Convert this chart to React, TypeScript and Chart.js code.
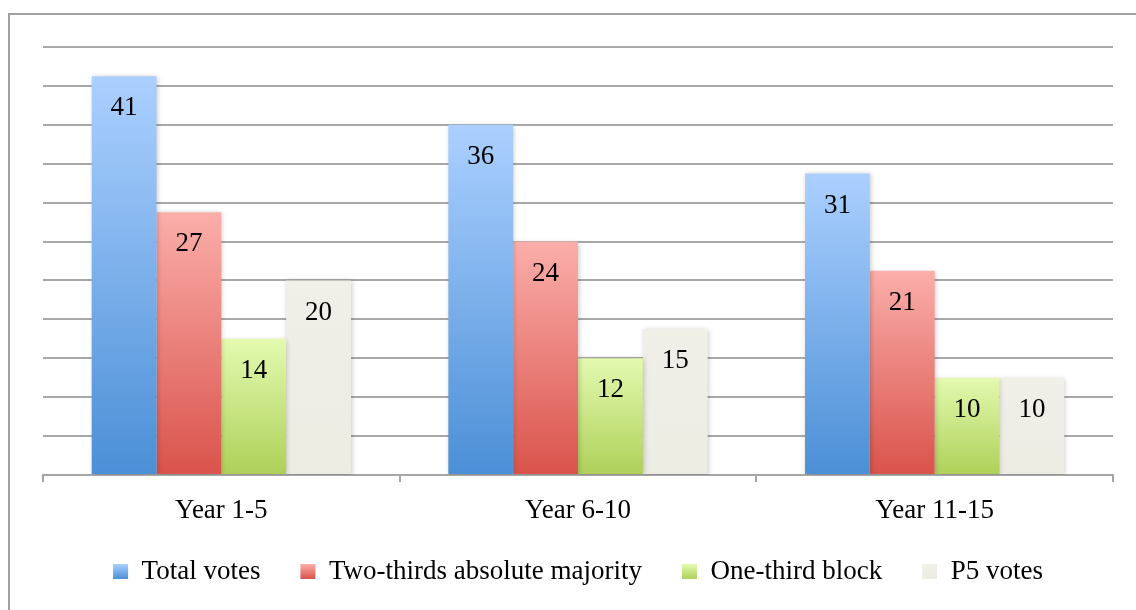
import React, { useEffect, useRef } from "react";
import { Chart, registerables } from "chart.js";

Chart.register(...registerables);

const categories = ["Year 1-5", "Year 6-10", "Year 11-15"];
const seriesNames = ["Total votes", "Two-thirds absolute majority", "One-third block", "P5 votes"];
const totalVotes = [41, 36, 31];
const twoThirds = [27, 24, 21];
const oneThird = [14, 12, 10];
const p5Votes = [20, 15, 10];

const FONT = "'Liberation Serif', serif";
const FONT_SIZE = 27;

const palette = [
  { top: "#abd0ff", bottom: "#4b8fd6", solid: "#7aaef0" },
  { top: "#fbaeaa", bottom: "#d9534b", solid: "#ec7d77" },
  { top: "#e3fab0", bottom: "#aed058", solid: "#cbe78a" },
  { top: "#f0efe8", bottom: "#edece3", solid: "#eeede5" },
];

function barFill(idx: number) {
  return (ctx: any) => {
    const chart = ctx.chart;
    const p = palette[idx];
    if (ctx.dataIndex === undefined || !chart.chartArea || !chart.scales.y) return p.solid;
    const v = ctx.raw ?? ctx.parsed?.y;
    const y = chart.scales.y;
    const top = y.getPixelForValue(v);
    const base = y.getPixelForValue(0);
    if (!isFinite(top) || !isFinite(base) || top === base) return p.solid;
    const g = chart.ctx.createLinearGradient(0, top, 0, base);
    g.addColorStop(0, p.top);
    g.addColorStop(1, p.bottom);
    return g;
  };
}

const barDecor = {
  id: "barDecor",
  beforeDraw(chart: any) {
    const legend = chart.legend;
    if (!legend || !legend.legendItems || !legend.legendHitBoxes) return;
    const boxH = 15;
    legend.legendItems.forEach((item: any, i: number) => {
      const hb = legend.legendHitBoxes[i];
      if (!hb) return;
      const t = hb.top + (hb.height - boxH) / 2;
      const g = chart.ctx.createLinearGradient(0, t, 0, t + boxH);
      const p = palette[item.datasetIndex] || palette[0];
      g.addColorStop(0, p.top);
      g.addColorStop(1, p.bottom);
      item.fillStyle = g;
    });
  },
  beforeDatasetsDraw(chart: any) {
    const ctx = chart.ctx;
    ctx.save();
    ctx.shadowColor = "rgba(0,0,0,0.22)";
    ctx.shadowBlur = 5;
    ctx.shadowOffsetX = 1;
    ctx.shadowOffsetY = 1;
  },
  afterDatasetsDraw(chart: any) {
    const ctx = chart.ctx;
    ctx.restore();
    ctx.save();
    ctx.font = `${FONT_SIZE}px ${FONT}`;
    ctx.fillStyle = "#000";
    ctx.textAlign = "center";
    ctx.textBaseline = "middle";
    chart.data.datasets.forEach((ds: any, di: number) => {
      const meta = chart.getDatasetMeta(di);
      meta.data.forEach((bar: any, i: number) => {
        ctx.fillText(String(ds.data[i]), bar.x, bar.y + 32);
      });
    });
    ctx.restore();
  },
};

export default function App() {
  const ref = useRef<HTMLCanvasElement | null>(null);

  useEffect(() => {
    if (!ref.current) return;
    const seriesData = [totalVotes, twoThirds, oneThird, p5Votes];
    const chart = new Chart(ref.current, {
      type: "bar",
      data: {
        labels: categories,
        datasets: seriesNames.map((name, i) => ({
          label: name,
          data: seriesData[i],
          backgroundColor: barFill(i),
          borderWidth: 0,
          categoryPercentage: 0.727,
          barPercentage: 1.0,
        })),
      },
      options: {
        animation: false,
        responsive: false,
        maintainAspectRatio: false,
        layout: { padding: { left: 43, right: 23, top: 47, bottom: 15 } },
        plugins: {
          tooltip: { enabled: false },
          legend: {
            position: "bottom",
            labels: {
              boxWidth: 15,
              boxHeight: 15,
              padding: 40,
              color: "#000",
              font: { family: FONT, size: FONT_SIZE },
            },
          },
        },
        scales: {
          x: {
            offset: true,
            afterFit: (scale: any) => {
              scale.height = 43;
            },
            grid: {
              drawOnChartArea: false,
              drawTicks: true,
              tickLength: 7,
              color: "#a6a6a6",
              lineWidth: 2,
            },
            border: { display: true, color: "#a6a6a6", width: 2 },
            ticks: {
              color: "#000",
              padding: 13,
              font: { family: FONT, size: FONT_SIZE },
            },
          },
          y: {
            min: 0,
            max: 44,
            ticks: { display: false, stepSize: 4 },
            grid: { drawTicks: false, color: "#a8a8a8", lineWidth: 2 },
            border: { display: false },
          },
        },
      },
      plugins: [barDecor],
    });
    return () => chart.destroy();
  }, []);

  return (
    <div style={{ position: "fixed", left: 0, top: 0, width: 1136, height: 610, background: "#fff", overflow: "hidden" }}>
      <div
        style={{
          position: "absolute",
          left: 8,
          top: 13,
          width: 1150,
          height: 620,
          border: "2px solid #a0a0a0",
          boxSizing: "border-box",
        }}
      />
      <canvas ref={ref} width={1136} height={610} style={{ position: "absolute", left: 0, top: 0 }} />
    </div>
  );
}
